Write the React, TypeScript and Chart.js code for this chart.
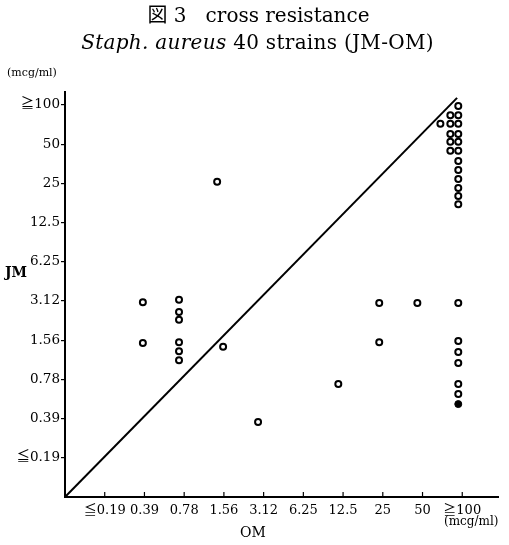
import React, { useEffect, useRef } from "react";
import { Chart, registerables } from "chart.js";

Chart.register(...registerables);

// Dilution-step scale: 0 = origin, 1 = ≦0.19 ... 10 = ≧100 (mcg/ml)
const xTickLabels = ["", "≦0.19", "0.39", "0.78", "1.56", "3.12", "6.25", "12.5", "25", "50", "≧100"];
const yTickLabels = ["", "≦0.19", "0.39", "0.78", "1.56", "3.12", "6.25", "12.5", "25", "50", "≧100"];

// Open circles: OM (x) and JM (y) positions, in dilution steps
const omOpen = [
  9.9, 9.9, 9.9, 9.9, 9.9, 9.9, 9.9, 9.9, 9.9, 9.9, 9.9, 9.9,
  9.7, 9.7, 9.7, 9.7, 9.7,
  9.45,
  8.87, 9.9,
  9.9, 9.9, 9.9, 9.9, 9.9,
  7.91, 7.91, 6.88,
  1.96, 1.96,
  2.87, 2.87, 2.87, 2.87, 2.87, 2.87,
  3.98, 3.83, 4.86,
];
const jmOpen = [
  9.97, 9.74, 9.52, 9.26, 9.06, 8.83, 8.57, 8.34, 8.11, 7.88, 7.68, 7.47,
  9.74, 9.52, 9.26, 9.06, 8.83,
  9.52,
  4.95, 4.95,
  3.98, 3.7, 3.42, 2.88, 2.63,
  4.95, 3.95, 2.88,
  4.97, 3.93,
  5.03, 4.72, 4.52, 3.95, 3.72, 3.49,
  3.83, 8.04, 1.91,
];
// Filled circle
const omFilled = [9.9];
const jmFilled = [2.37];
// Diagonal reference line
const diagonalOM = [0, 9.87];
const diagonalJM = [0, 10.18];

const tickFont = { family: "'DejaVu Serif', 'Noto Sans CJK JP', serif", size: 13 };

const xTickPlugin = {
  id: "xInsideTicks",
  afterDraw(chart: any) {
    const { ctx } = chart;
    const xs = chart.scales.x;
    const y0 = xs.top;
    ctx.save();
    ctx.strokeStyle = "#000";
    ctx.lineWidth = 1.2;
    for (let i = 1; i < xTickLabels.length; i++) {
      const px = xs.getPixelForValue(i);
      ctx.beginPath();
      ctx.moveTo(px, y0);
      ctx.lineTo(px, y0 - 5);
      ctx.stroke();
    }
    ctx.restore();
  },
};

export default function App() {
  const ref = useRef<HTMLCanvasElement | null>(null);

  useEffect(() => {
    document.body.style.margin = "0";
    const canvas = ref.current;
    if (!canvas) return;
    const toXY = (xs: number[], ys: number[]) => xs.map((x, i) => ({ x, y: ys[i] }));
    const chart = new Chart(canvas, {
      type: "scatter",
      data: {
        datasets: [
          {
            label: "diagonal",
            data: toXY(diagonalOM, diagonalJM),
            showLine: true,
            borderColor: "#000",
            borderWidth: 2,
            pointRadius: 0,
          },
          {
            label: "strains",
            data: toXY(omOpen, jmOpen),
            pointStyle: "circle",
            pointRadius: 3,
            pointBorderWidth: 2,
            borderColor: "#000",
            backgroundColor: "#fff",
          },
          {
            label: "strains (filled)",
            data: toXY(omFilled, jmFilled),
            pointStyle: "circle",
            pointRadius: 3.5,
            pointBorderWidth: 1,
            borderColor: "#000",
            backgroundColor: "#000",
          },
        ] as any,
      },
      options: {
        animation: false,
        responsive: false,
        devicePixelRatio: 1,
        clip: false as any,
        layout: { padding: { top: 92, right: 11, left: 0, bottom: 0 } },
        plugins: { legend: { display: false }, tooltip: { enabled: false }, title: { display: false } },
        scales: {
          x: {
            type: "linear",
            min: 0,
            max: 10.9,
            afterFit: (s: any) => {
              s.height = 48;
            },
            afterBuildTicks: (s: any) => {
              s.ticks = xTickLabels.map((_, i) => ({ value: i })).slice(1);
            },
            ticks: {
              autoSkip: false,
              maxRotation: 0,
              padding: 6,
              color: "#000",
              font: tickFont,
              callback: (v: any) => xTickLabels[Math.round(Number(v))] ?? "",
            },
            grid: { display: false, drawTicks: false },
            border: { display: true, color: "#000", width: 2 },
          },
          y: {
            type: "linear",
            min: 0,
            max: 10.33,
            afterFit: (s: any) => {
              s.width = 65;
            },
            afterBuildTicks: (s: any) => {
              s.ticks = yTickLabels.map((_, i) => ({ value: i })).slice(1);
            },
            ticks: {
              autoSkip: false,
              padding: 1,
              color: "#000",
              font: { ...tickFont, size: 13.5 },
              callback: (v: any) => yTickLabels[Math.round(Number(v))] ?? "",
            },
            grid: { display: true, drawOnChartArea: false, drawTicks: true, tickLength: 4, color: "#000", lineWidth: 1.2 },
            border: { display: true, color: "#000", width: 2 },
          },
        },
      } as any,
      plugins: [xTickPlugin],
    });
    return () => chart.destroy();
  }, []);

  const serif = "'DejaVu Serif', 'Noto Sans CJK JP', serif";
  const abs = (extra: React.CSSProperties): React.CSSProperties => ({
    position: "absolute",
    fontFamily: serif,
    color: "#000",
    whiteSpace: "nowrap",
    lineHeight: 1,
    ...extra,
  });

  return (
    <div style={{ position: "relative", width: 509, height: 545, background: "#fff" }}>
      <canvas ref={ref} width={509} height={545} style={{ position: "absolute", left: 0, top: 0 }} />
      <div style={abs({ left: 0, width: 517, top: 4, textAlign: "center", fontSize: 20 })}>
        <span style={{ fontFamily: "'Noto Sans CJK JP', sans-serif" }}>図</span> 3&nbsp;&nbsp; cross resistance
      </div>
      <div style={abs({ left: 0, width: 515, top: 32, textAlign: "center", fontSize: 20, letterSpacing: 0.3 })}>
        <i>Staph. aureus</i> 40 strains (JM-OM)
      </div>
      <div style={abs({ left: 7, top: 67, fontSize: 11 })}>(mcg/ml)</div>
      <div style={abs({ left: 5, top: 265, fontSize: 14, fontWeight: "bold" })}>JM</div>
      <div style={abs({ left: 240, top: 525, fontSize: 14 })}>OM</div>
      <div style={abs({ left: 444, top: 515, fontSize: 12 })}>(mcg/ml)</div>
    </div>
  );
}
